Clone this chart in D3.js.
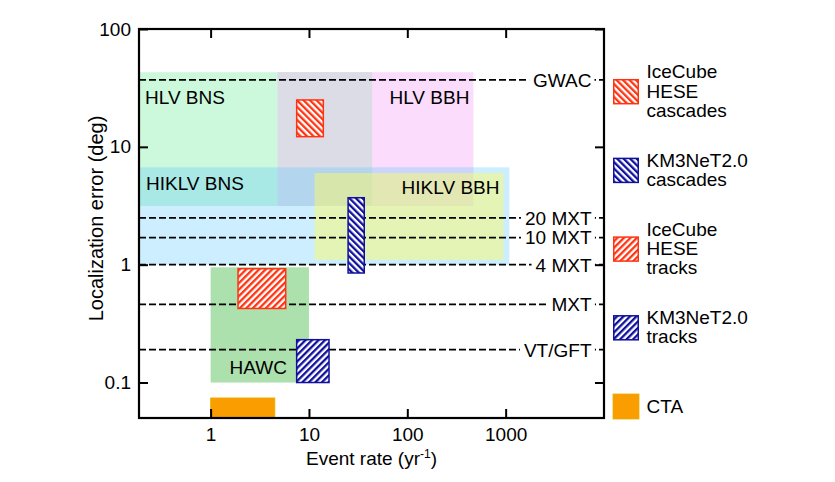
<!DOCTYPE html>
<html>
<head>
<meta charset="utf-8">
<script src="https://cdn.jsdelivr.net/npm/d3@7"></script>
<style>
  body { margin: 0; background: #fff; }
  svg { font-family: 'Liberation Sans', Arial, Helvetica, sans-serif; }
</style>
</head>
<body>
<div id="chart"></div>
<script>
const xTicks = [1, 10, 100, 1000];
const yTicks = [0.1, 1, 10, 100];

// shaded detector regions (event rate x localization error)
const regionNames = ['HLV BNS', 'HLV BBH', 'HAWC', 'CTA', 'HIKLV BNS', 'HIKLV BBH'];
const regionX0 = [0.1, 4.8, 1, 1, 0.1, 11.4];
const regionX1 = [44, 470, 10, 4.5, 1090, 950];
const regionY0 = [3.15, 3.15, 0.1, 0.03, 1.0, 1.1];
const regionY1 = [43, 43, 0.95, 0.074, 6.7, 6.0];

// hatched neutrino boxes
const boxNames = ['IceCube HESE cascades', 'KM3NeT2.0 cascades', 'IceCube HESE tracks', 'KM3NeT2.0 tracks'];
const boxX0 = [7.5, 25, 1.9, 7.5];
const boxX1 = [14, 36.5, 5.8, 16];
const boxY0 = [12.2, 0.85, 0.425, 0.1];
const boxY1 = [25, 3.7, 0.925, 0.231];

// dashed instrument lines
const lineNames = ['GWAC', '20 MXT', '10 MXT', '4 MXT', 'MXT', 'VT/GFT'];
const lineValues = [37, 2.5, 1.7, 1.0, 0.46, 0.19];

// legend entries
const legendLines = [
  ['IceCube', 'HESE', 'cascades'],
  ['KM3NeT2.0', 'cascades'],
  ['IceCube', 'HESE', 'tracks'],
  ['KM3NeT2.0', 'tracks'],
  ['CTA'],
];
const legendKeys = ['IceCube HESE cascades', 'KM3NeT2.0 cascades', 'IceCube HESE tracks', 'KM3NeT2.0 tracks', 'CTA'];

const width = 835;
const height = 482;
const fs = 19;

const red = '#ff3311';
const blue = '#10109c';

const regionStyle = {
  'HLV BNS': { fill: '#ccf8dc', op: 1 },
  'HLV BBH': { fill: '#fcdcfc', op: 1 },
  HAWC: { fill: '#ace0ac', op: 1 },
  CTA: { fill: '#f99d00', op: 1 },
  'HIKLV BNS': { fill: 'rgb(82,197,255)', op: 0.294 },
  'HIKLV BBH': { fill: 'rgb(252,250,105)', op: 0.5 },
};
const boxStyle = {
  'IceCube HESE cascades': { color: red, pat: 'hatch-red-back' },
  'KM3NeT2.0 cascades': { color: blue, pat: 'hatch-blue-back' },
  'IceCube HESE tracks': { color: red, pat: 'hatch-red-fwd' },
  'KM3NeT2.0 tracks': { color: blue, pat: 'hatch-blue-fwd' },
};

const x = d3.scaleLog().domain([0.187, 10000]).range([139, 604]);
const y = d3.scaleLog().domain([0.05, 100]).range([418, 29]);

const svg = d3
  .select('#chart')
  .append('svg')
  .attr('width', width)
  .attr('height', height)
  .attr('font-size', fs);

const defs = svg.append('defs');
defs
  .append('clipPath')
  .attr('id', 'plot-clip')
  .append('rect')
  .attr('x', x.range()[0])
  .attr('y', y.range()[1])
  .attr('width', x.range()[1] - x.range()[0])
  .attr('height', y.range()[0] - y.range()[1]);

[
  ['hatch-red-back', red, -45],
  ['hatch-blue-back', blue, -45],
  ['hatch-red-fwd', red, 45],
  ['hatch-blue-fwd', blue, 45],
].forEach(([id, color, angle]) => {
  const p = defs
    .append('pattern')
    .attr('id', id)
    .attr('patternUnits', 'userSpaceOnUse')
    .attr('width', 4.6)
    .attr('height', 4.6)
    .attr('patternTransform', `rotate(${angle})`);
  p.append('rect').attr('width', 4.6).attr('height', 4.6).attr('fill', '#fff');
  p.append('rect').attr('width', 2.3).attr('height', 4.6).attr('fill', color);
});

const plot = svg.append('g').attr('clip-path', 'url(#plot-clip)');

// regions
const regions = regionNames.map((n, i) => ({
  name: n, x0: regionX0[i], x1: regionX1[i], y0: regionY0[i], y1: regionY1[i],
}));

function drawRegion(r, fill, op) {
  plot
    .append('rect')
    .attr('x', x(r.x0))
    .attr('y', y(r.y1))
    .attr('width', x(r.x1) - x(r.x0))
    .attr('height', y(r.y0) - y(r.y1))
    .attr('fill', fill)
    .attr('fill-opacity', op);
}

regions.forEach((r, i) => {
  const s = regionStyle[r.name];
  drawRegion(r, s.fill, s.op);
  if (r.name === 'HLV BBH') {
    // overlap of the two HLV regions
    const a = regions[0];
    drawRegion(
      {
        x0: Math.max(a.x0, r.x0), x1: Math.min(a.x1, r.x1),
        y0: Math.max(a.y0, r.y0), y1: Math.min(a.y1, r.y1),
      },
      '#dcdce6', 1
    );
  }
  if (r.name === 'CTA') {
    plot
      .append('rect')
      .attr('x', x(r.x0))
      .attr('y', y(r.y1))
      .attr('width', x(r.x1) - x(r.x0))
      .attr('height', y(r.y0) - y(r.y1))
      .attr('fill', 'none')
      .attr('stroke', '#e9b000')
      .attr('stroke-width', 0.8);
  }
});

// dashed lines
plot
  .selectAll('.dash')
  .data(lineValues)
  .enter()
  .append('line')
  .attr('class', 'dash')
  .attr('x1', x.range()[0])
  .attr('x2', x.range()[1])
  .attr('y1', (d) => y(d))
  .attr('y2', (d) => y(d))
  .attr('stroke', '#000')
  .attr('stroke-width', 1.8)
  .attr('stroke-dasharray', '7,3');

const lineLabels = svg
  .selectAll('.line-label')
  .data(lineNames)
  .enter()
  .append('g')
  .attr('class', 'line-label');
lineLabels
  .append('text')
  .text((d) => d)
  .attr('x', 591.5)
  .attr('y', (d, i) => y(lineValues[i]))
  .attr('dy', '0.36em')
  .attr('text-anchor', 'end')
  .attr('fill', '#000');
lineLabels.each(function () {
  const g = d3.select(this);
  const bb = g.select('text').node().getBBox();
  g.insert('rect', 'text')
    .attr('x', bb.x - 4)
    .attr('y', bb.y + 2)
    .attr('width', bb.width + 7)
    .attr('height', bb.height - 4)
    .attr('fill', '#fff');
});

// region labels
const labelSpec = {
  'HLV BNS': (r) => ({ x: x.range()[0] + 6, y: y(r.y1) + 31.5, anchor: 'start' }),
  'HLV BBH': (r) => ({ x: x(r.x1) - 4, y: y(r.y1) + 31.5, anchor: 'end' }),
  'HIKLV BNS': (r) => ({ x: x.range()[0] + 7, y: y(r.y1) + 22.5, anchor: 'start' }),
  'HIKLV BBH': (r) => ({ x: x(r.x1) - 4, y: y(r.y1) + 21, anchor: 'end' }),
  HAWC: (r) => ({ x: x(r.x1) - 22, y: y(r.y0) - 8.5, anchor: 'end' }),
};
regions
  .filter((r) => labelSpec[r.name])
  .forEach((r) => {
    const p = labelSpec[r.name](r);
    svg
      .append('text')
      .text(r.name)
      .attr('x', p.x)
      .attr('y', p.y)
      .attr('text-anchor', p.anchor)
      .attr('fill', '#000');
  });

// hatched boxes
boxNames.forEach((n, i) => {
  const s = boxStyle[n];
  svg
    .append('rect')
    .attr('x', x(boxX0[i]))
    .attr('y', y(boxY1[i]))
    .attr('width', x(boxX1[i]) - x(boxX0[i]))
    .attr('height', y(boxY0[i]) - y(boxY1[i]))
    .attr('fill', `url(#${s.pat})`)
    .attr('stroke', s.color)
    .attr('stroke-width', 1.5);
});

// axes
function styleAxis(g) {
  g.attr('font-family', null).attr('font-size', fs);
  g.select('.domain').remove();
  g.selectAll('line').attr('stroke', '#000').attr('stroke-width', 2);
  g.selectAll('text').attr('fill', '#000');
}
svg
  .append('g')
  .attr('transform', `translate(0,${y.range()[0]})`)
  .call(d3.axisBottom(x).tickValues(xTicks).tickSize(-9).tickPadding(10).tickFormat((d) => d))
  .call(styleAxis);
svg
  .append('g')
  .attr('transform', `translate(0,${y.range()[1]})`)
  .call(d3.axisTop(x).tickValues(xTicks).tickSize(-9).tickFormat(''))
  .call(styleAxis);
svg
  .append('g')
  .attr('transform', `translate(${x.range()[0]},0)`)
  .call(d3.axisLeft(y).tickValues(yTicks).tickSize(-9).tickPadding(8).tickFormat((d) => d))
  .call(styleAxis);
svg
  .append('g')
  .attr('transform', `translate(${x.range()[1]},0)`)
  .call(d3.axisRight(y).tickValues(yTicks).tickSize(-9).tickFormat(''))
  .call(styleAxis);

// frame
svg
  .append('rect')
  .attr('x', x.range()[0])
  .attr('y', y.range()[1])
  .attr('width', x.range()[1] - x.range()[0])
  .attr('height', y.range()[0] - y.range()[1])
  .attr('fill', 'none')
  .attr('stroke', '#000')
  .attr('stroke-width', 2.2);

// axis titles
const xt = svg
  .append('text')
  .attr('x', (x.range()[0] + x.range()[1]) / 2)
  .attr('y', 465)
  .attr('text-anchor', 'middle')
  .attr('fill', '#000');
xt.append('tspan').text('Event rate (yr');
xt.append('tspan').text('-1').attr('font-size', 12).attr('dy', -7);
xt.append('tspan').text(')').attr('dy', 7);

svg
  .append('text')
  .text('Localization error (deg)')
  .attr('transform', 'translate(103,218.5) rotate(-90)')
  .attr('text-anchor', 'middle')
  .attr('font-size', 20)
  .attr('fill', '#000');

// legend
const legend = svg.append('g').attr('transform', 'translate(613,0)');
legendKeys.forEach((k, i) => {
  const cy = 91.7 + i * 78.7;
  const g = legend.append('g');
  if (k === 'CTA') {
    g.append('rect')
      .attr('x', 0).attr('y', cy - 12.5).attr('width', 26).attr('height', 25)
      .attr('fill', regionStyle.CTA.fill).attr('stroke', '#e9b000').attr('stroke-width', 0.8);
  } else {
    const s = boxStyle[k];
    g.append('rect')
      .attr('x', 0.75).attr('y', cy - 12).attr('width', 24.5).attr('height', 24)
      .attr('fill', `url(#${s.pat})`).attr('stroke', s.color).attr('stroke-width', 1.5);
  }
  const lines = legendLines[i];
  const t = g
    .append('text')
    .attr('x', 33.5)
    .attr('y', cy - ((lines.length - 1) * 19.3) / 2 + 6)
    .attr('fill', '#000');
  lines.forEach((l, j) => {
    t.append('tspan').text(l).attr('x', 33.5).attr('dy', j === 0 ? 0 : 19.3);
  });
});
</script>
</body>
</html>
